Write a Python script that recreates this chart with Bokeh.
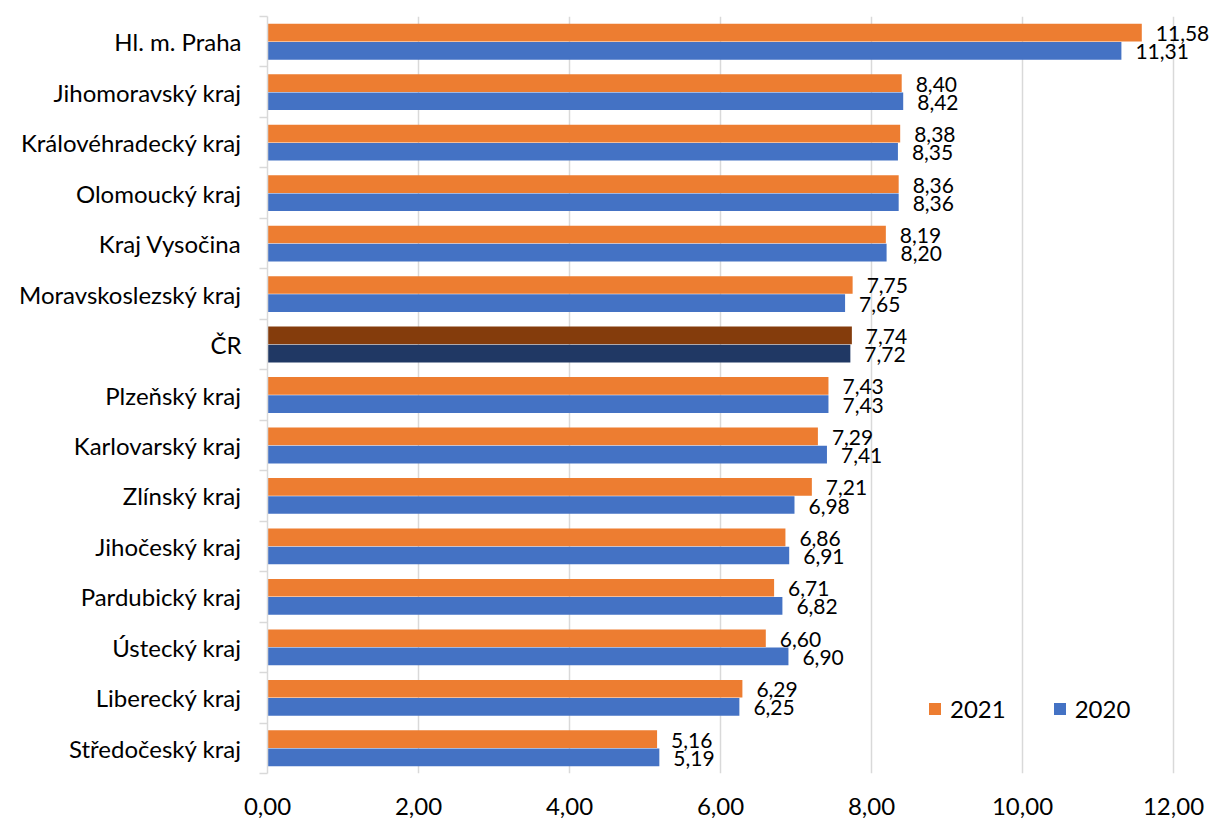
from bokeh.plotting import figure
from bokeh.models import (ColumnDataSource, Range1d, FixedTicker, LabelSet, Legend,
                          LegendItem, CustomJSTickFormatter)
from bokeh.core.properties import value
from bokeh.embed import file_html
from bokeh.resources import INLINE

categories = ["Hl. m. Praha", "Jihomoravský kraj", "Královéhradecký kraj", "Olomoucký kraj",
              "Kraj Vysočina", "Moravskoslezský kraj", "ČR", "Plzeňský kraj", "Karlovarský kraj",
              "Zlínský kraj", "Jihočeský kraj", "Pardubický kraj", "Ústecký kraj",
              "Liberecký kraj", "Středočeský kraj"]
v2021 = [11.58, 8.40, 8.38, 8.36, 8.19, 7.75, 7.74, 7.43, 7.29, 7.21, 6.86, 6.71, 6.60, 6.29, 5.16]
v2020 = [11.31, 8.42, 8.35, 8.36, 8.20, 7.65, 7.72, 7.43, 7.41, 6.98, 6.91, 6.82, 6.90, 6.25, 5.19]
x_ticks = [0, 2, 4, 6, 8, 10, 12]

FONT = "Lato"
FS = "24px"
FS_VAL = "21px"
OFF = 0.18
BAR_H = 0.35

idx = list(range(len(categories)))
c21 = ["#843C0C" if c == "ČR" else "#ED7D31" for c in categories]
c20 = ["#203864" if c == "ČR" else "#4472C4" for c in categories]

def fmt(v):
    return f"{v:.2f}".replace(".", ",")

src = ColumnDataSource(dict(
    idx=idx,
    y21=[i - OFF for i in idx],
    y20=[i + OFF for i in idx],
    v21=v2021, v20=v2020,
    t21=[fmt(v) for v in v2021], t20=[fmt(v) for v in v2020],
    c21=c21, c20=c20,
))

W = 1210
p = figure(width=W, height=818, output_backend="svg", toolbar_location=None,
           x_range=Range1d(0, 12 + (W - 1173) / 75.5), y_range=Range1d(len(categories) - 0.5, -0.5),
           min_border_left=267, min_border_right=0, min_border_top=16, min_border_bottom=45)
p.outline_line_color = None

r21 = p.hbar(y="y21", right="v21", left=0, height=BAR_H, source=src,
             fill_color="c21", line_color=None)
r20 = p.hbar(y="y20", right="v20", left=0, height=BAR_H, source=src,
             fill_color="c20", line_color=None)

for yf, xf, tf in (("y21", "v21", "t21"), ("y20", "v20", "t20")):
    p.add_layout(LabelSet(x=xf, y=yf, text=tf, source=src,
                          x_offset=14, y_offset=-1, text_baseline="middle", text_font=value(FONT),
                          text_font_size=value(FS_VAL), text_color=value("#000000")))

# x axis
p.xaxis.ticker = FixedTicker(ticks=x_ticks)
p.xaxis.formatter = CustomJSTickFormatter(code="return tick.toFixed(2).replace('.', ',');")
p.xaxis.axis_line_color = None
p.xaxis.major_tick_line_color = None
p.xaxis.minor_tick_line_color = None
p.xaxis.major_label_standoff = 18
p.xaxis.major_label_text_font = FONT
p.xaxis.major_label_text_font_size = FS
p.xaxis.major_label_text_color = "#000000"

# y axis
p.yaxis.ticker = FixedTicker(ticks=idx, minor_ticks=[i - 0.5 for i in idx] + [len(idx) - 0.5])
p.yaxis.major_label_overrides = {i: c for i, c in zip(idx, categories)}
p.yaxis.axis_line_color = "#D9D9D9"
p.yaxis.axis_line_width = 1.5
p.yaxis.major_tick_line_color = None
p.yaxis.minor_tick_line_color = "#D9D9D9"
p.yaxis.minor_tick_line_width = 1.5
p.yaxis.minor_tick_out = 8
p.yaxis.minor_tick_in = 0
p.yaxis.major_label_standoff = 18
p.yaxis.major_label_text_font = FONT
p.yaxis.major_label_text_font_size = FS
p.yaxis.major_label_text_color = "#000000"

p.xgrid.grid_line_color = "#D9D9D9"
p.xgrid.grid_line_width = 1.5
p.ygrid.grid_line_color = None

legend = Legend(items=[LegendItem(label="2021", renderers=[r21], index=0),
                       LegendItem(label="2020", renderers=[r20], index=0)],
                orientation="horizontal", location=(660, 50),
                glyph_width=15, glyph_height=15, label_standoff=8, spacing=46,
                padding=0, margin=0, border_line_color=None, background_fill_alpha=0,
                label_text_font=FONT, label_text_font_size=FS, label_text_color="#000000")
p.add_layout(legend)

open("out.html", "w").write(file_html(p, INLINE))
